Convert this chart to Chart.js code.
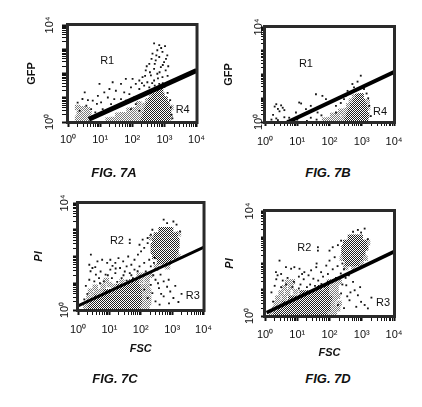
<!DOCTYPE html>
<html>
<head>
<meta charset="utf-8">
<script src="https://cdn.jsdelivr.net/npm/chart.js@4.4.1/dist/chart.umd.min.js"></script>
<style>
  html, body { margin:0; padding:0; background:#fff; }
  body { width:422px; height:407px; position:relative; overflow:hidden; }
  canvas { position:absolute; }
  .fig { position:absolute; width:120px; text-align:center; font:italic bold 13px "Liberation Sans", Arial, sans-serif; color:#111; line-height:16px; }
</style>
</head>
<body>
<canvas id="cA" width="211" height="160" style="left:0px;top:0px"></canvas>
<canvas id="cB" width="211" height="160" style="left:211px;top:0px"></canvas>
<canvas id="cD" width="211" height="175" style="left:211px;top:190px"></canvas>
<canvas id="cC" width="220" height="175" style="left:0px;top:190px"></canvas>
<div class="fig" style="left:54px;top:165px">FIG. 7A</div>
<div class="fig" style="left:268px;top:165px">FIG. 7B</div>
<div class="fig" style="left:55px;top:371px">FIG. 7C</div>
<div class="fig" style="left:268px;top:371px">FIG. 7D</div>
<script>
// ---- tick labels (decades) ----
const tickLabels = ['10\u2070', '10\u00B9', '10\u00B2', '10\u00B3', '10\u2074'];
const yTickLabels = { 0: '10\u2070', 4: '10\u2074' };
const yTitles = ['GFP', 'GFP', 'PI', 'PI'];
const xTitles = ['', '', 'FSC', 'FSC'];

// ---- Panel A (x = FSC decades, y = GFP decades) ----
const denseA = [
 [2.35,0.1],[2.5,0.08],[2.65,0.1],[2.8,0.08],[2.95,0.1],[3.1,0.08],
 [2.4,0.3],[2.55,0.28],[2.7,0.3],[2.85,0.28],[3.0,0.3],[3.12,0.28],
 [2.45,0.5],[2.6,0.48],[2.75,0.5],[2.9,0.48],[3.05,0.5],[3.13,0.45],
 [2.5,0.7],[2.62,0.68],[2.75,0.7],[2.88,0.68],[3.0,0.7],[3.08,0.75],
 [2.58,0.9],[2.7,0.9],[2.82,0.88],[2.95,0.92],[3.02,0.95],
 [2.68,1.08],[2.8,1.12],[2.92,1.1],
 [2.78,1.28],[2.88,1.32]
];
const lightA = [
 [2.2,0.08],[2.25,0.28],[2.3,0.48],[2.38,0.68],[2.48,0.88],[2.6,1.1],[3.18,0.2],[3.2,0.6],
 [1.25,0.08],[1.4,0.1],[1.55,0.08],[1.7,0.1],[1.85,0.08],[2.0,0.1],[2.1,0.08],
 [1.55,0.28],[1.7,0.3],[1.85,0.28],[2.0,0.3],[2.12,0.28],
 [1.9,0.48],[2.05,0.5],[2.18,0.55],[2.2,0.75],
 [0.3,0.15],[0.45,0.12],[0.6,0.15],[0.35,0.35],[0.5,0.3],[0.65,0.35],[0.45,0.55],[0.6,0.5],[0.3,0.6]
];
const sparseA = [
 [2.68,3.24],[2.84,3.17],[3.02,3.13],[2.78,2.96],[2.94,2.89],[2.63,2.82],[3.09,2.75],[2.84,2.68],
 [2.73,2.54],[2.99,2.47],[2.53,2.4],[2.89,2.26],[2.68,2.19],[2.42,2.13],[3.04,2.13],[2.78,1.99],
 [2.58,1.92],[2.32,1.85],[2.94,1.85],[2.22,1.71],[2.68,1.71],[2.47,1.64],[2.11,1.57],[2.84,1.57],
 [2.37,1.5],[1.96,1.43],[2.53,1.43],[2.22,1.36],[1.8,1.78],[2.01,1.78],[1.65,1.57],[1.39,1.64],
 [0.98,1.57],[1.29,1.36],[1.49,1.29],[1.75,1.22],[1.91,1.15],[1.13,1.22],[0.93,1.08],[1.24,1.01],
 [1.44,0.94],[1.65,0.94],[0.77,0.88],[1.03,0.81],[1.34,0.74],[0.52,1.22],[0.57,0.67],[0.72,0.53],
 [0.36,0.46],[1.08,0.53],[1.8,0.88],[2.06,1.01],[1.55,0.67],[2.11,0.74],[1.96,0.53],[2.22,0.46],
 [2.9,3.05],[2.75,2.75],[2.6,2.6],[3.05,2.6],[2.95,2.35],[2.55,2.05],[2.85,2.05],[2.4,1.9],
 [2.7,1.5],[2.95,1.6],[3.1,1.9],[2.3,1.6],[3.2,0.6],[3.22,0.3],[3.18,0.9],[3.1,1.2],[3.25,0.15],
 [0.45,0.95],[0.3,0.8],[0.85,0.4],[1.0,0.3],[0.9,0.75],[0.62,0.9],[2.5,1.25],[2.35,1.15],
 [2.62,1.6],[2.8,1.8],[3.0,1.45],[2.45,2.3],[2.7,2.4],[3.12,2.3]
];
const gateA = [[0.65,0.11],[4.0,2.12]];
const regionA = [['R1',1.22,2.5],['R4',3.57,0.49]];

// ---- Panel B ----
const denseB = [
 [2.55,0.1],[2.7,0.08],[2.85,0.1],[3.0,0.08],[3.12,0.1],
 [2.6,0.3],[2.75,0.28],[2.9,0.3],[3.05,0.28],[3.15,0.3],
 [2.65,0.48],[2.8,0.5],[2.95,0.48],[3.1,0.5],
 [2.72,0.68],[2.85,0.7],[2.98,0.68],[3.08,0.7],
 [2.8,0.88],[2.92,0.9],[3.02,0.88],
 [2.88,1.08],[2.98,1.1]
];
const lightB = [
 [2.4,0.08],[2.45,0.28],[2.52,0.48],[2.6,0.68],[2.68,0.88],[2.78,1.05],[3.18,0.6],[3.17,0.85],
 [1.85,0.08],[2.0,0.1],[2.12,0.08],[2.25,0.1],[2.1,0.28],[2.25,0.3],[2.35,0.45]
];
const sparseB = [
 [0.3,0.65],[0.4,0.55],[0.5,0.7],[0.35,0.75],[0.55,0.6],[0.45,0.45],[0.6,0.5],[0.2,0.1],
 [0.35,0.15],[0.4,0.08],[0.6,0.2],[0.7,0.05],[0.25,0.3],
 [1.06,0.82],[1.12,0.78],[1.58,1.17],[1.78,1.1],[1.89,0.96],[1.42,0.68],[1.27,0.54],[2.2,0.68],
 [2.71,1.6],[2.87,1.7],[2.97,1.95],[2.76,1.46],[3.07,1.39],[2.56,1.31],[2.3,1.03],[2.45,0.96],
 [0.75,0.18],[0.96,0.4],[1.22,0.33],[1.42,0.18],[1.63,0.4],[2.2,0.4],[3.28,0.25],[3.23,0.68],
 [1.0,0.1],[1.3,0.05],[1.6,0.1],[1.75,0.28],[2.35,0.8],[2.5,1.1],[3.2,1.0],[2.65,1.2],[3.15,1.2]
];
const gateB = [[0.71,0.0],[4.0,2.1]];
const regionB = [['R1',1.27,2.45],['R4',3.57,0.42]];

// ---- Panel C (x = FSC decades, y = PI decades) ----
const denseC = [
 [2.65,3.0],[2.8,3.0],[2.95,3.0],
 [2.5,2.8],[2.65,2.8],[2.8,2.8],[2.95,2.8],[3.1,2.8],
 [2.45,2.6],[2.6,2.6],[2.75,2.6],[2.9,2.6],[3.05,2.6],[3.15,2.6],
 [2.4,2.4],[2.55,2.4],[2.7,2.4],[2.85,2.4],[3.0,2.4],[3.15,2.4],
 [2.4,2.2],[2.55,2.2],[2.7,2.2],[2.85,2.2],[3.0,2.2],[3.12,2.2],
 [2.45,2.0],[2.6,2.0],[2.75,2.0],[2.9,2.0],[3.05,2.0],
 [2.6,1.8],[2.75,1.8],[2.9,1.8],
 [0.4,0.08],[0.55,0.08],[0.7,0.08],[0.85,0.08],[1.0,0.08],[1.15,0.08],[1.3,0.08],[1.45,0.08],[1.6,0.08],[1.75,0.08],[1.9,0.08],
 [0.45,0.28],[0.6,0.28],[0.75,0.28],[0.9,0.28],[1.05,0.28],[1.2,0.28],[1.35,0.28],[1.5,0.28],[1.65,0.28],[1.8,0.28],[1.95,0.28],
 [0.6,0.48],[0.75,0.48],[0.9,0.48],[1.05,0.48],[1.2,0.48],[1.35,0.48],[1.5,0.48],[1.65,0.48],[1.8,0.48],[1.95,0.48],
 [0.9,0.68],[1.05,0.68],[1.2,0.68],[1.35,0.68],[1.5,0.68],[1.65,0.68],[1.8,0.68],[1.95,0.68],
 [1.3,0.88],[1.45,0.88],[1.6,0.88],[1.75,0.88],[1.9,0.88],
 [1.7,1.05],[1.85,1.08]
];
const lightC = [
 [2.5,1.62],[2.85,1.62],[3.18,2.0],[3.2,2.85],[2.35,2.7],
 [0.25,0.08],[2.05,0.08],[2.2,0.08],[0.3,0.28],[2.1,0.28],[2.25,0.28],
 [0.35,0.48],[0.5,0.55],[2.1,0.48],[2.25,0.48],[0.6,0.68],[0.75,0.7],[2.1,0.68],[2.25,0.7],
 [0.8,0.9],[1.0,0.95],[1.15,0.88],[2.05,0.88],[2.2,0.9],[0.9,1.1],[1.4,1.05],[2.0,1.1],[2.2,1.12],
 [1.95,1.3],[2.1,1.3],[2.3,1.3],[0.55,0.85],[0.4,0.7]
];
const sparseC = [
 [0.41,2.07],[0.36,1.69],[0.46,1.57],[0.62,1.82],[0.77,1.88],[0.93,1.76],[1.03,1.88],[1.19,1.76],
 [1.29,1.94],[1.44,1.82],[1.55,1.63],[1.7,1.69],[1.8,1.88],[1.91,2.07],[2.01,2.19],[2.11,2.32],
 [1.96,2.44],[2.22,2.5],[1.65,2.63],[1.65,2.5],[2.06,2.63],[2.22,2.69],[2.32,2.82],[2.37,3.0],
 [2.84,3.25],[3.04,3.31],[3.14,3.19],[2.73,3.38],[3.25,2.94],
 [0.57,1.32],[0.72,1.44],[0.88,1.32],[1.03,1.51],[1.19,1.38],[1.34,1.57],[1.49,1.44],[1.65,1.38],
 [1.8,1.51],[1.96,1.63],[2.11,1.76],[2.27,1.88],[0.36,1.13],[0.52,1.07],[0.67,1.19],[0.82,1.07],
 [1.08,1.19],[1.39,1.19],[1.75,1.19],[1.96,1.26],[2.16,1.44],[2.32,1.63],[2.42,1.76],
 [2.53,1.51],[2.63,1.32],[2.47,1.13],[2.73,1.07],[2.84,0.87],[2.58,0.82],[2.94,0.69],[2.37,0.63],
 [2.73,0.51],[3.04,0.45],[2.22,0.45],[2.47,0.32],[2.11,0.76],[2.32,0.94],[2.89,1.13],
 [3.2,0.3],[3.3,0.6],[2.6,0.2],[2.9,0.25],[3.1,0.9],[0.25,0.9],[0.4,1.45],[0.55,1.6],[1.1,1.65],
 [1.6,2.0],[2.45,1.95],[1.25,1.05],[1.55,1.1],[0.3,0.6],[0.2,0.4],[2.4,1.3],[2.55,1.0],[2.65,0.6],
 [0.7,1.0],[0.95,1.3],[1.2,1.55],[1.45,1.3],[1.7,1.3],[1.9,1.45]
];
const gateC = [[0.0,0.15],[4.0,2.34]];
const regionC = [['R2',1.24,2.59],['R3',3.66,0.51]];

// ---- Panel D ----
const denseD = [
 [2.65,3.0],[2.8,3.0],[2.95,3.0],
 [2.5,2.8],[2.65,2.8],[2.8,2.8],[2.95,2.8],[3.08,2.8],
 [2.45,2.6],[2.6,2.6],[2.75,2.6],[2.9,2.6],[3.05,2.6],[3.12,2.6],
 [2.45,2.4],[2.6,2.4],[2.75,2.4],[2.9,2.4],[3.03,2.4],
 [2.5,2.2],[2.65,2.2],[2.8,2.2],[2.95,2.2],
 [2.55,2.0],[2.7,2.0],[2.85,2.0],
 [0.35,0.08],[0.5,0.08],[0.65,0.08],[0.8,0.08],[0.95,0.08],[1.1,0.08],[1.25,0.08],[1.4,0.08],[1.55,0.08],[1.7,0.08],[1.85,0.08],
 [0.45,0.28],[0.6,0.28],[0.75,0.28],[0.9,0.28],[1.05,0.28],[1.2,0.28],[1.35,0.28],[1.5,0.28],[1.65,0.28],[1.8,0.28],[1.95,0.28],
 [0.6,0.48],[0.75,0.48],[0.9,0.48],[1.05,0.48],[1.2,0.48],[1.35,0.48],[1.5,0.48],[1.65,0.48],[1.8,0.48],[1.95,0.48],
 [0.8,0.68],[0.95,0.68],[1.1,0.68],[1.25,0.68],[1.4,0.68],[1.55,0.68],[1.7,0.68],[1.85,0.68],[2.0,0.68],
 [1.15,0.88],[1.3,0.88],[1.45,0.88],[1.6,0.88],[1.75,0.88],[1.9,0.88],
 [1.7,1.08],[1.9,1.08]
];
const lightD = [
 [2.4,2.2],[3.1,2.2],[2.5,1.85],[2.75,1.85],[2.98,2.0],[3.18,2.8],
 [0.2,0.08],[2.0,0.08],[2.15,0.08],[0.3,0.28],[2.1,0.28],[2.25,0.28],
 [0.35,0.48],[0.5,0.5],[2.1,0.48],[2.3,0.48],[0.4,0.68],[0.6,0.7],[2.15,0.68],[2.25,0.75],
 [0.5,0.88],[0.7,0.9],[0.95,0.92],[2.05,0.88],[2.2,0.9],[0.6,1.08],[0.8,1.1],[2.05,1.1],[2.2,1.1],
 [0.7,1.28],[0.85,1.3],[2.0,1.3],[2.15,1.3],[2.3,1.3]
];
const sparseD = [
 [2.88,3.28],[3.09,3.33],[2.98,3.18],[2.73,3.21],[3.19,2.93],
 [1.64,2.62],[1.64,2.49],[2.1,2.62],[2.26,2.7],[2.0,2.49],[2.36,2.87],
 [0.45,2.11],[0.34,1.67],[0.39,1.55],[0.65,1.86],[0.81,1.8],[0.91,1.86],[1.07,1.8],[1.22,1.67],
 [1.43,1.74],[1.59,1.86],[1.74,1.67],[1.9,1.92],[2.0,2.11],[2.16,2.24],
 [0.55,1.35],[0.7,1.45],[0.9,1.3],[1.05,1.5],[1.2,1.4],[1.35,1.55],[1.5,1.42],[1.65,1.35],
 [1.8,1.5],[1.95,1.6],[2.1,1.78],[2.25,1.9],[0.3,1.15],[0.5,1.1],[0.65,1.2],[0.85,1.1],
 [1.1,1.2],[1.4,1.2],[1.75,1.22],[1.95,1.3],[2.2,1.45],[2.35,1.62],[2.45,1.78],
 [2.78,0.98],[2.88,0.79],[2.62,0.6],[2.26,0.42],[2.98,0.54],[3.09,0.42],[2.52,1.17],[2.73,1.3],
 [2.36,0.86],[2.83,0.35],[3.19,0.29],[2.5,1.45],[2.6,1.55],[2.45,0.3],[2.65,0.9],[2.95,1.1],
 [0.2,0.9],[0.35,1.4],[0.5,1.6],[1.15,1.6],[1.6,2.0],[2.4,2.0],[0.25,0.55],[3.3,0.7],
 [1.05,1.05],[1.3,1.1],[1.55,1.15],[2.4,1.2],[2.55,0.75]
];
const gateD = [[0.05,0.13],[4.0,2.45]];
const regionD = [['R2',1.22,2.58],['R3',3.66,0.48]];

// ---- helpers ----
const TICK_FONT = { family: "'Liberation Sans Narrow', 'Liberation Sans', Arial, sans-serif", size: 11 };
function decadeTicks() {
  const t = [];
  for (let d = 0; d < 4; d++) for (let k = 1; k <= 9; k++) t.push({ value: d + Math.log10(k) });
  t.push({ value: 4 });
  return t;
}
function toXY(arr) { return arr.map(p => ({ x: p[0], y: p[1] })); }
function makePattern(ctx, cells, color) {
  const pc = document.createElement('canvas');
  pc.width = 2; pc.height = 2;
  const g = pc.getContext('2d');
  g.fillStyle = '#ffffff'; g.fillRect(0, 0, 2, 2);
  g.fillStyle = color;
  cells.forEach(c => g.fillRect(c[0], c[1], 1, 1));
  return ctx.createPattern(pc, 'repeat');
}

function makeChart(id, cfg) {
  const canvas = document.getElementById(id);
  const ctx = canvas.getContext('2d');
  const densePat = makePattern(ctx, [[0,0],[1,1]], '#1e1e1e');
  const lightPat = makePattern(ctx, [[0,0],[1,1]], '#7a7a7a');

  const framePlugin = {
    id: 'frame_' + id,
    afterDatasetsDraw(chart) {
      const c = chart.ctx;
      c.save();
      c.fillStyle = '#111';
      c.font = "11px 'Liberation Sans', Arial, sans-serif";
      c.textAlign = 'center'; c.textBaseline = 'middle';
      cfg.regions.forEach(r => {
        c.fillText(r[0], chart.scales.x.getPixelForValue(r[1]), chart.scales.y.getPixelForValue(r[2]));
      });
      c.restore();
    },
    afterDraw(chart) {
      const a = chart.chartArea, c = chart.ctx, ys = chart.scales.y;
      c.save();
      c.strokeStyle = '#2a2a2a'; c.lineWidth = 3;
      c.strokeRect(a.left - 0.5, a.top - 0.5, a.right - a.left + 1, a.bottom - a.top + 1);
      c.fillStyle = '#111';
      c.font = "11px 'Liberation Sans Narrow', 'Liberation Sans', Arial, sans-serif";
      c.textAlign = 'center'; c.textBaseline = 'middle';
      Object.keys(yTickLabels).forEach(k => {
        const py = ys.getPixelForValue(Number(k));
        c.save();
        c.translate(cfg.yLabX, py);
        c.rotate(-Math.PI / 2);
        c.fillText(yTickLabels[k], 0, 0);
        c.restore();
      });
      c.restore();
    }
  };

  const tickW = (c) => (c.tick && Number.isInteger(c.tick.value)) ? 2 : 1;

  return new Chart(ctx, {
    type: 'scatter',
    data: {
      datasets: [
        { type: 'line', data: toXY(cfg.gate), borderColor: '#000', borderWidth: cfg.gateWidth,
          pointRadius: 0, fill: false, tension: 0 },
        { data: toXY(cfg.sparse), pointStyle: 'rect', pointRadius: 1.3, backgroundColor: '#161616', borderWidth: 0 },
        { data: toXY(cfg.dense), pointStyle: 'rect', pointRadius: 3.9, backgroundColor: densePat, borderWidth: 0 },
        { data: toXY(cfg.light), pointStyle: 'rect', pointRadius: 3.9, backgroundColor: lightPat, borderWidth: 0 }
      ]
    },
    options: {
      responsive: false, animation: false, devicePixelRatio: 1, events: [],
      layout: { padding: { left: 0, top: cfg.padT, right: cfg.padR, bottom: cfg.padB } },
      plugins: { legend: { display: false }, tooltip: { enabled: false } },
      scales: {
        x: {
          type: 'linear', min: 0, max: 4, offset: false,
          afterBuildTicks: s => { s.ticks = decadeTicks(); },
          afterFit: s => { s.height = cfg.xH; },
          ticks: { autoSkip: false, maxRotation: 0, minRotation: 0, padding: cfg.xPad, color: '#111', font: TICK_FONT,
                   callback: v => Number.isInteger(v) ? tickLabels[v] : '' },
          grid: { display: true, drawOnChartArea: false, drawTicks: true, tickLength: cfg.xTL, color: '#111', tickWidth: tickW },
          border: { display: true, color: '#111', width: 1 },
          title: { display: !!cfg.xTitle, text: cfg.xTitle, color: '#111',
                   font: { family: "'Liberation Sans', Arial, sans-serif", size: 11, weight: 'bold', style: 'italic' },
                   padding: { top: 0, bottom: cfg.xTitlePad } }
        },
        y: {
          type: 'linear', min: 0, max: 4,
          afterBuildTicks: s => { s.ticks = decadeTicks(); },
          afterFit: s => { s.width = cfg.yW; },
          ticks: { autoSkip: false, padding: 0, color: '#111', font: TICK_FONT, callback: () => '' },
          grid: { display: true, drawOnChartArea: false, drawTicks: true, tickLength: cfg.yTL, color: '#111', tickWidth: tickW },
          border: { display: true, color: '#111', width: 1 },
          title: { display: true, text: cfg.yTitle, color: '#111',
                   font: { family: "'Liberation Sans', Arial, sans-serif", size: 11, weight: 'bold', style: cfg.yItalic ? 'italic' : 'normal' },
                   padding: { top: cfg.yTitlePad, bottom: 0 } }
        }
      }
    },
    plugins: [framePlugin]
  });
}

makeChart('cA', { dense: denseA, light: lightA, sparse: sparseA, gate: gateA, regions: regionA, gateWidth: 5,
  padT: 25, padR: 12, padB: 8, xH: 30, yW: 68, xPad: 6, xTL: 5, yLabX: 50, yTL: 6,
  yTitle: yTitles[0], yItalic: false, yTitlePad: 25, xTitle: xTitles[0], xTitlePad: 0 });
makeChart('cB', { dense: denseB, light: lightB, sparse: sparseB, gate: gateB, regions: regionB, gateWidth: 4,
  padT: 27, padR: 28, padB: 8, xH: 30, yW: 54, xPad: 9, xTL: 4, yLabX: 48, yTL: 4,
  yTitle: yTitles[1], yItalic: false, yTitlePad: 11, xTitle: xTitles[1], xTitlePad: 0 });
makeChart('cC', { dense: denseC, light: lightC, sparse: sparseC, gate: gateC, regions: regionC, gateWidth: 3,
  padT: 13, padR: 12, padB: 5, xH: 50, yW: 78, xPad: 8, xTL: 5, yLabX: 65, yTL: 5,
  yTitle: yTitles[2], yItalic: true, yTitlePad: 32, xTitle: xTitles[2], xTitlePad: 4 });
makeChart('cD', { dense: denseD, light: lightD, sparse: sparseD, gate: gateD, regions: regionD, gateWidth: 3.5,
  padT: 21, padR: 28, padB: 1, xH: 48, yW: 54, xPad: 7, xTL: 5, yLabX: 39, yTL: 4,
  yTitle: yTitles[3], yItalic: true, yTitlePad: 12, xTitle: xTitles[3], xTitlePad: 4 });
</script>
</body>
</html>
